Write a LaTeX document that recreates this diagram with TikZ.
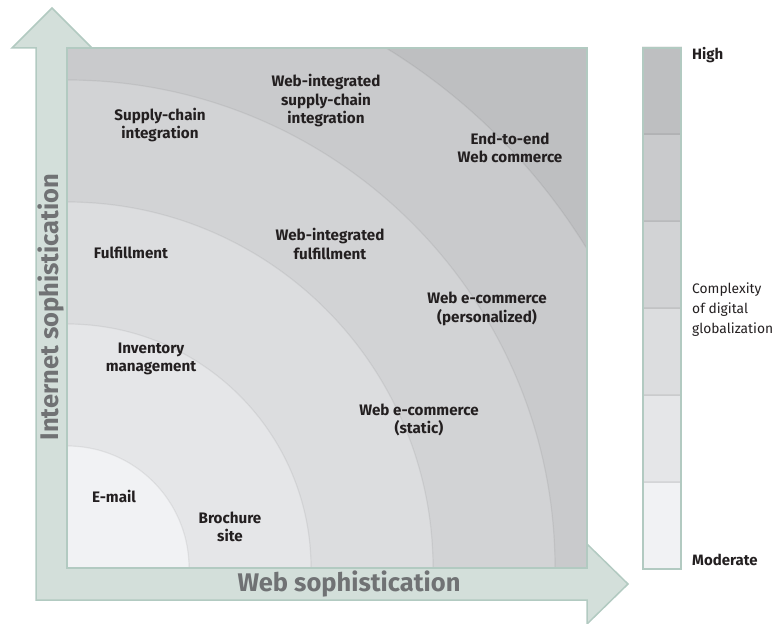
\documentclass[tikz,border=0pt]{standalone}
\usepackage{fontspec}
\setmainfont{Fira Sans}
\definecolor{arrowfill}{HTML}{D3DFDA}
\definecolor{arrowline}{HTML}{B2CAC1}
\definecolor{bandA}{HTML}{F1F2F4}
\definecolor{bandB}{HTML}{E5E6E8}
\definecolor{bandC}{HTML}{DCDDDF}
\definecolor{bandD}{HTML}{D2D3D5}
\definecolor{bandE}{HTML}{C9CACC}
\definecolor{bandF}{HTML}{BEBFC1}
\definecolor{axistext}{HTML}{707274}
\definecolor{labeltext}{HTML}{231F20}
\begin{document}
\begin{tikzpicture}
[x=1pt,y=-1pt,%
  bandlabel/.style={align=center,inner sep=0pt,text=labeltext,font=\bfseries\fontsize{15.2}{18.5}\selectfont},%
  keylabel/.style={anchor=west,inner sep=0pt,text=labeltext,font=\bfseries\fontsize{15}{18}\selectfont},%
  axislabel/.style={inner sep=0pt,text=axistext,font=\bfseries\fontsize{25.5}{28}\selectfont},%
  arcline/.style={draw=black,draw opacity=0.06,line width=1.2pt},%
  edgeline/.style={draw=arrowline,line width=1.5pt}]
\useasboundingbox (0,0) rectangle (775,623);
%% axis arrows
\filldraw[fill=arrowfill,edgeline,line join=miter] (36,600) -- (36,48) -- (12,48) -- (52,8) -- (92,48)
  -- (67,48) -- (67,568) -- (587,568) -- (587,544) -- (628,584) -- (587,624) -- (587,600) -- cycle;
%% bands of the quarter circles
\begin{scope}
  \clip (67,48) rectangle (587,568);
  \fill[bandF] (67,48) rectangle (587,568);
  \foreach \r/\shade in {610/bandE, 488/bandD, 366/bandC, 244/bandB, 122/bandA}
  {
    \filldraw[fill=\shade,arcline] (67,568) circle[radius=\r pt];
  }
\end{scope}
\draw[edgeline] (67,48) rectangle (587,568);
%% key bar
\foreach \i/\shade in {0/bandA, 1/bandB, 2/bandC, 3/bandD, 4/bandE, 5/bandF}
{
  \filldraw[fill=\shade,arcline] (643,{569-87*\i}) rectangle (681,{569-87*(\i+1)});
}
\draw[edgeline] (643,48) rectangle (681,569);
%% labels of the bands
\foreach \labelname/\x/\y/\labeltext in {
  email/114/496/{E-mail}, brochure/230/527/{Brochure\\site},
  inventory/151/359/{Inventory\\management}, fulfillment/131/253/{Fulfillment},
  supplychain/160/125/{Supply-chain\\integration}, webstatic/419/420/{Web e-commerce\\(static)},
  webfulfill/330/244/{Web-integrated\\fulfillment}, webpersonal/487/309/{Web e-commerce\\(personalized)},
  websupply/326/101/{Web-integrated\\supply-chain\\integration}, endtoend/510/148/{End-to-end\\Web commerce}}
{
  \node[bandlabel] (\labelname) at (\x,\y) {\labeltext};
}
%% labels of the key
\node[keylabel] (high) at (692,55) {High};
\node[keylabel] (moderate) at (692,560) {Moderate};
\node[keylabel,align=left,font=\fontsize{13.8}{20}\selectfont] (complexity) at (692,310) {Complexity\\of digital\\globalization};
%% axis labels
\node[axislabel] (websoph) at (349,584) {Web sophistication};
\node[axislabel,rotate=90] (netsoph) at (51,307) {Internet sophistication};
\end{tikzpicture}
\end{document}
